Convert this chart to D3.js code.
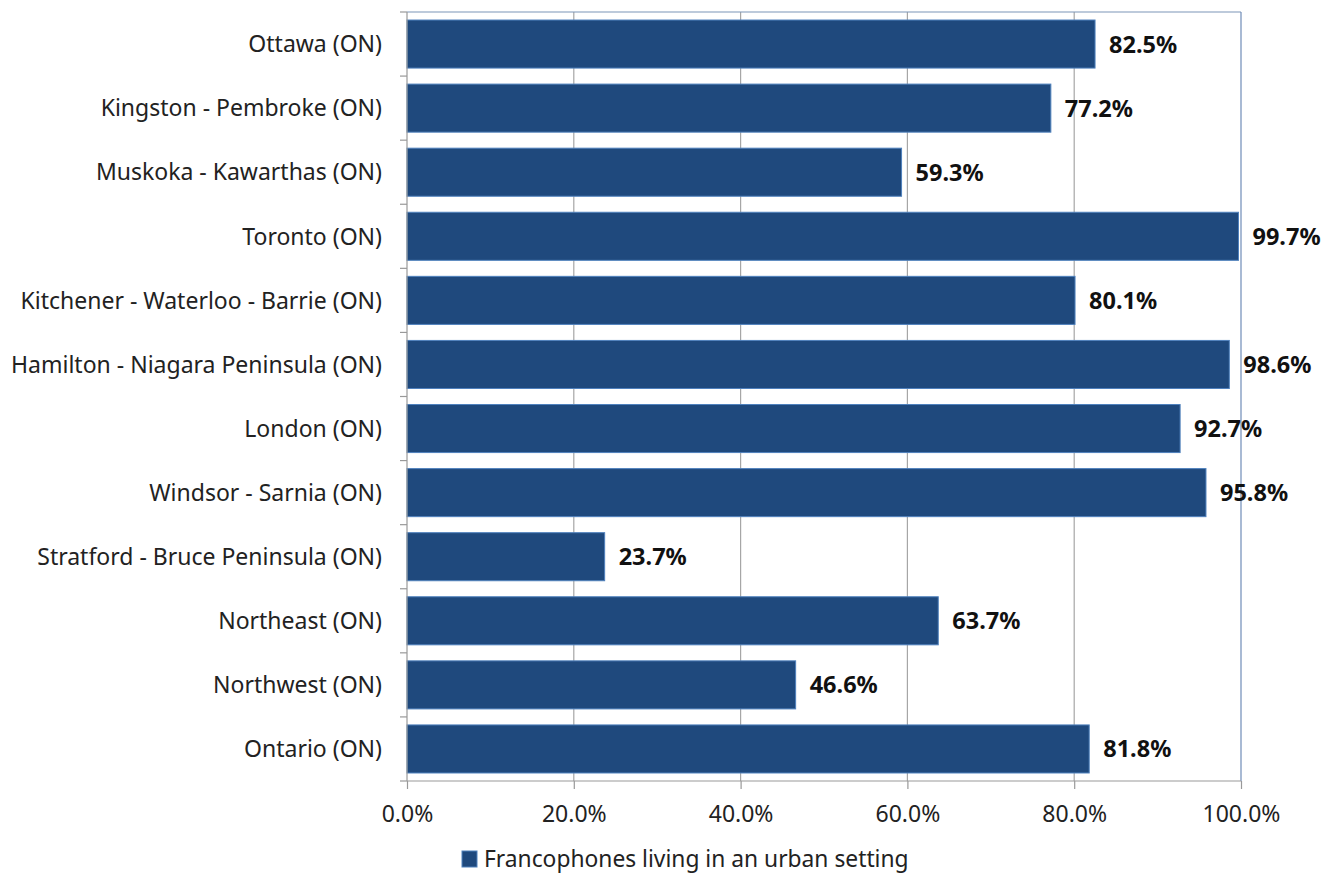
<!DOCTYPE html>
<html><head><meta charset="utf-8">
<script src="https://cdn.jsdelivr.net/npm/d3@7"></script>
<style>body{margin:0;background:#fff}svg{display:block}</style>
</head><body>
<svg id="c" width="1324" height="874"></svg>
<script>
const categories = ["Ottawa (ON)","Kingston - Pembroke (ON)","Muskoka - Kawarthas (ON)","Toronto (ON)","Kitchener - Waterloo - Barrie (ON)","Hamilton - Niagara Peninsula (ON)","London (ON)","Windsor - Sarnia (ON)","Stratford - Bruce Peninsula (ON)","Northeast (ON)","Northwest (ON)","Ontario (ON)"];
const values = [82.5,77.2,59.3,99.7,80.1,98.6,92.7,95.8,23.7,63.7,46.6,81.8];
const xTicks = [0,20,40,60,80,100];
const seriesName = "Francophones living in an urban setting";

const svg = d3.select("#c");
const L = 407, R = 1241, T = 12, B = 781;
const font = "'Noto Sans', sans-serif";
const x = d3.scaleLinear().domain([0,100]).range([L,R]);
const y = d3.scaleBand().domain(categories).range([T,B]).paddingInner(0.25).paddingOuter(0.125);

// gridlines
svg.append("g").selectAll("line").data(xTicks.filter(d=>d>0&&d<100)).join("line")
  .attr("x1",d=>x(d)).attr("x2",d=>x(d)).attr("y1",T).attr("y2",B)
  .attr("stroke","#a6a6a6").attr("stroke-width",1.2);

// plot border top/right
svg.append("line").attr("x1",L).attr("x2",R).attr("y1",T).attr("y2",T).attr("stroke","#7d95b8").attr("stroke-width",1.2);
svg.append("line").attr("x1",R).attr("x2",R).attr("y1",T).attr("y2",B).attr("stroke","#6f8cb8").attr("stroke-width",1.2);

// bars
svg.append("g").selectAll("rect").data(values).join("rect")
  .attr("x",x(0)).attr("y",(d,i)=>y(categories[i]))
  .attr("width",d=>x(d)-x(0)).attr("height",y.bandwidth())
  .attr("fill","#1f497d").attr("stroke","#4f81bd").attr("stroke-width",1);

// value labels
svg.append("g").selectAll("text").data(values).join("text")
  .attr("x",d=>x(d)+14).attr("y",(d,i)=>y(categories[i])+y.bandwidth()/2)
  .attr("dy","0.36em").attr("font-family",font).attr("font-weight","bold")
  .attr("font-size",23.5).attr("fill","#111").text(d=>d.toFixed(1)+"%");

// y axis
const yAxis = svg.append("g").attr("transform",`translate(${L},0)`);
yAxis.append("line").attr("x1",0).attr("x2",0).attr("y1",T).attr("y2",B).attr("stroke","#999").attr("stroke-width",1.2);
const bounds = d3.range(categories.length+1).map(i=>T + i*(B-T)/categories.length);
yAxis.selectAll("line.t").data(bounds).join("line").attr("class","t")
  .attr("x1",-7).attr("x2",0).attr("y1",d=>d).attr("y2",d=>d).attr("stroke","#999").attr("stroke-width",1.2);
yAxis.selectAll("text").data(categories).join("text")
  .attr("x",-25).attr("y",d=>y(d)+y.bandwidth()/2).attr("dy","0.36em")
  .attr("text-anchor","end").attr("font-family",font).attr("font-size",23).attr("fill","#222").text(d=>d);

// x axis
const xAxis = d3.axisBottom(x).tickValues(xTicks).tickFormat(d=>d.toFixed(1)+"%").tickSize(8).tickPadding(17);
const gx = svg.append("g").attr("transform",`translate(0,${B})`).call(xAxis);
gx.select(".domain").attr("stroke","#999").attr("stroke-width",1.2).attr("d",`M${L},0H${R}`);
gx.selectAll(".tick line").attr("stroke","#999").attr("stroke-width",1.2);
gx.selectAll(".tick text").attr("font-family",font).attr("font-size",23).attr("fill","#222");

// legend
svg.append("rect").attr("x",462).attr("y",851).attr("width",15).attr("height",16).attr("fill","#1f497d").attr("stroke","#4f81bd");
svg.append("text").attr("x",484).attr("y",866.5).attr("font-family",font).attr("font-size",22.8).attr("fill","#222").text(seriesName);
</script>
</body></html>
